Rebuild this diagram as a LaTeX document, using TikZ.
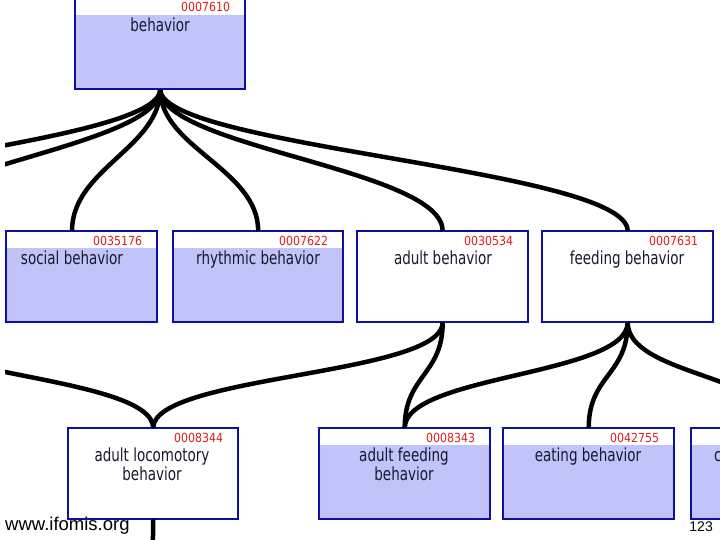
\documentclass[tikz,border=0pt]{standalone}
\usepackage{fontspec}
\newfontfamily\namef[FakeStretch=0.75]{DejaVu Sans}
\newfontfamily\idf[FakeStretch=0.88]{DejaVu Sans}
\setmainfont{Liberation Sans}
\definecolor{boxblue}{RGB}{192,196,248}
\definecolor{boxline}{RGB}{16,16,160}
\definecolor{idred}{RGB}{222,30,30}
\definecolor{namecol}{RGB}{24,24,48}
\tikzset{
  box/.style={draw=none, inner sep=0pt, minimum height=91pt},
  border/.style={draw=boxline, line width=2pt},
  conn/.style={draw=black, line width=4.5pt},
  idlabel/.style={anchor=base east, inner sep=0pt, text=idred, font=\idf\fontsize{12.5}{13}\selectfont},
  namelabel/.style={anchor=base, inner sep=0pt, text=namecol, font=\namef\fontsize{18}{19}\selectfont},
  foot/.style={inner sep=0pt, text=black}
}
% #1 name, #2 left, #3 top, #4 width, #5 fill (blue/white), #6 id
\newcommand\obobox[6]{%
  \node[box, fill=#5, minimum width=#4pt, anchor=north west] (#1) at (#2,#3) {};
  \fill[white] (#1.north west) rectangle ([yshift=-17pt]#1.north east);
  \draw[border] (#1.north west) rectangle (#1.south east);
  \node[idlabel] (#1-id) at ([xshift=-15pt,yshift=-14pt]#1.north east) {#6};
}
\begin{document}
\begin{tikzpicture}[x=1pt,y=-1pt]
\useasboundingbox (0,0) rectangle (720,540);
\fill[white] (0,0) rectangle (720,540);
\begin{scope}
\clip (5,0) rectangle (720,540);
% boxes
\obobox{beh}{75}{-2}{170}{boxblue}{0007610}
\node[namelabel] (beh-t) at (160,32) {behavior};

\obobox{soc}{6}{231}{151}{boxblue}{0035176}
\node[namelabel] (soc-t) at (72,264) {social behavior};
\obobox{rhy}{173}{231}{170}{boxblue}{0007622}
\node[namelabel] (rhy-t) at (258,264) {rhythmic behavior};
\obobox{adb}{357}{231}{171}{white}{0030534}
\node[namelabel] (adb-t) at (443,264) {adult behavior};
\obobox{fdb}{542}{231}{171}{white}{0007631}
\node[namelabel] (fdb-t) at (627,264) {feeding behavior};

\obobox{alb}{68}{428}{170}{white}{0008344}
\node[namelabel] (alb-t1) at (152,461) {adult locomotory};
\node[namelabel] (alb-t2) at (152,480) {behavior};
\obobox{afb}{319}{428}{171}{boxblue}{0008343}
\node[namelabel] (afb-t1) at (404,461) {adult feeding};
\node[namelabel] (afb-t2) at (404,480) {behavior};
\obobox{eat}{503}{428}{171}{boxblue}{0042755}
\node[namelabel] (eat-t) at (588,461) {eating behavior};
\node[box, fill=boxblue, minimum width=170pt, anchor=north west] (prt) at (691,428) {};
\fill[white] (prt.north west) rectangle ([yshift=-17pt]prt.north east);
\draw[border] (prt.north west) rectangle (prt.south east);
\node[namelabel, anchor=base west] (prt-t) at (714,461) {c};

% hidden endpoints
\coordinate (socin) at (72,231);
\coordinate (offA) at (-113,231);
\coordinate (offB) at (-298,231);
\coordinate (offC) at (-113,322);
\coordinate (offD) at (152,620);

% connectors top tree
\draw[conn] (beh.south) .. controls +(0,58) and +(0,-62) .. (socin);
\draw[conn] (beh.south) .. controls +(0,58) and +(0,-62) .. (rhy.north);
\draw[conn] (beh.south) .. controls +(0,58) and +(0,-62) .. (adb.north);
\draw[conn] (beh.south) .. controls +(0,58) and +(0,-62) .. (fdb.north);
\draw[conn] (beh.south) .. controls +(0,58) and +(0,-62) .. (offA);
\draw[conn] (beh.south) .. controls +(0,58) and +(0,-62) .. (offB);
% lower tree
\draw[conn] (adb.south) .. controls +(0,53) and +(0,-53) .. (alb.north);
\draw[conn] (adb.south) .. controls +(0,53) and +(0,-53) .. (afb.north);
\draw[conn] (offC) .. controls +(0,53) and +(0,-53) .. (alb.north);
\draw[conn] (fdb.south) .. controls +(0,53) and +(0,-53) .. (afb.north);
\draw[conn] (fdb.south) .. controls +(0,53) and +(0,-53) .. (eat.north);
\draw[conn] (fdb.south) .. controls +(0,53) and +(0,-53) .. (prt.north);
\draw[conn] (alb.south) -- (offD);
\end{scope}
% footer
\node[foot, anchor=west, font=\fontsize{18.5}{19}\selectfont] (url) at (5,526) {www.ifomis.org};
\node[foot, anchor=east, font=\fontsize{14}{15}\selectfont] (pg) at (713,527) {123};
\end{tikzpicture}
\end{document}
